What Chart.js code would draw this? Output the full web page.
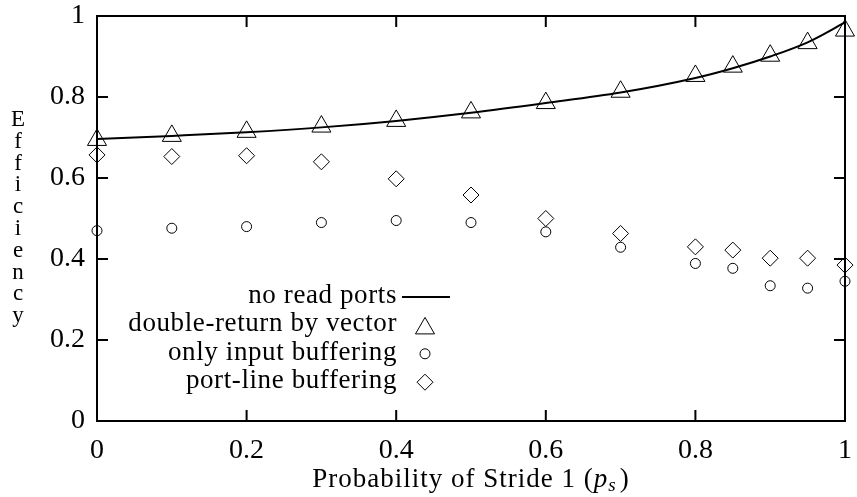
<!DOCTYPE html>
<html>
<head>
<meta charset="utf-8">
<script src="https://cdn.jsdelivr.net/npm/chart.js@4.4.1/dist/chart.umd.min.js"></script>
<style>
    html, body { margin: 0; padding: 0; background: #fff; }
</style>
</head>
<body>
<canvas id="efficiencyChart" width="857" height="497"></canvas>
<script>
// values
const strideProb = [0, 0.1, 0.2, 0.3, 0.4, 0.5, 0.6, 0.7, 0.8, 0.85, 0.9, 0.95, 1];
const noReadPorts = [0.696, 0.704, 0.713, 0.725, 0.741, 0.761, 0.785, 0.811, 0.847, 0.871, 0.900, 0.935, 0.984];
const doubleReturn = [0.694, 0.704, 0.714, 0.727, 0.741, 0.762, 0.785, 0.813, 0.852, 0.875, 0.902, 0.933, 0.964];
const inputBuffering = [0.470, 0.476, 0.480, 0.490, 0.495, 0.490, 0.467, 0.429, 0.389, 0.377, 0.334, 0.328, 0.345];
const portLineBuffering = [0.657, 0.653, 0.655, 0.640, 0.598, 0.558, 0.500, 0.463, 0.430, 0.422, 0.402, 0.402, 0.385];
const axisTicks = [0, 0.2, 0.4, 0.6, 0.8, 1];
const yTitle = 'Efficiency';
const xTitle = 'Probability of Stride 1 (';

const FONT = '"Liberation Serif", "Times New Roman", serif';

function toPoints(ys) {
    return strideProb.map((x, i) => ({ x: x, y: ys[i] }));
}

function formatTick(v) {
    return String(Math.round(v * 10) / 10);
}

// zero the label overhang so the plot box lands where the reference has it
function fixScale(scale, size) {
    if (scale.isHorizontal()) scale.height = size; else scale.width = size;
    scale.paddingLeft = 0;
    scale.paddingRight = 0;
    scale.paddingTop = 0;
    scale.paddingBottom = 0;
}

const legendRows = [
    { label: 'no read ports', kind: 'line' },
    { label: 'double-return by vector', kind: 'point', style: 'triangle', radius: 11 },
    { label: 'only input buffering', kind: 'point', style: 'circle', radius: 5 },
    { label: 'port-line buffering', kind: 'point', style: 'rectRot', radius: 8 }
];

// gnuplot-like frame: inward ticks on all four sides, stacked y title, key
const gnuplotFrame = {
    id: 'gnuplotFrame',
    afterDraw(chart) {
        const ctx = chart.ctx;
        const a = chart.chartArea;
        const xs = chart.scales.x;
        const ys = chart.scales.y;
        const tick = 11;

        ctx.save();
        ctx.strokeStyle = '#000';
        ctx.lineWidth = 2;
        ctx.strokeRect(a.left, a.top, a.right - a.left, a.bottom - a.top);

        ctx.beginPath();
        axisTicks.forEach(v => {
            const px = xs.getPixelForValue(v);
            ctx.moveTo(px, a.bottom); ctx.lineTo(px, a.bottom - tick);
            ctx.moveTo(px, a.top); ctx.lineTo(px, a.top + tick);
            const py = ys.getPixelForValue(v);
            ctx.moveTo(a.left, py); ctx.lineTo(a.left + tick, py);
            ctx.moveTo(a.right, py); ctx.lineTo(a.right - tick, py);
        });
        ctx.stroke();

        // stacked y title
        ctx.fillStyle = '#000';
        ctx.font = '23px ' + FONT;
        ctx.textAlign = 'center';
        ctx.textBaseline = 'alphabetic';
        yTitle.split('').forEach((ch, i) => {
            ctx.fillText(ch, 18, 126 + i * 21.8);
        });

        // x title with italic p and subscript s
        ctx.letterSpacing = '1px';
        const cx = (a.left + a.right) / 2;
        const base = 487;
        ctx.font = '27px ' + FONT;
        const w1 = ctx.measureText(xTitle).width;
        ctx.font = 'italic 27px ' + FONT;
        const wp = ctx.measureText('p').width;
        ctx.font = 'italic 19px ' + FONT;
        const ws = ctx.measureText('s').width;
        ctx.font = '27px ' + FONT;
        const wc = ctx.measureText(')').width;
        let x0 = cx - (w1 + wp + ws + 3 + wc) / 2;
        ctx.textAlign = 'left';
        ctx.fillText(xTitle, x0, base);
        x0 += w1;
        ctx.font = 'italic 27px ' + FONT;
        ctx.fillText('p', x0, base);
        x0 += wp;
        ctx.font = 'italic 19px ' + FONT;
        ctx.fillText('s', x0, base + 4);
        x0 += ws + 3;
        ctx.font = '27px ' + FONT;
        ctx.fillText(')', x0, base);

        // key
        ctx.letterSpacing = '0.6px';
        const textRight = a.left + 300;
        const symX = a.left + 328;
        ctx.textAlign = 'right';
        legendRows.forEach((row, i) => {
            const by = a.top + 287 + i * 28.4;
            ctx.fillStyle = '#000';
            ctx.font = '27px ' + FONT;
            ctx.fillText(row.label, textRight, by);
            const sy = by - 6;
            if (row.kind === 'line') {
                ctx.lineWidth = 2;
                ctx.beginPath();
                ctx.moveTo(symX - 23, sy);
                ctx.lineTo(symX + 25, sy);
                ctx.stroke();
            } else {
                ctx.lineWidth = 1;
                ctx.fillStyle = '#fff';
                Chart.helpers.drawPoint(ctx, {
                    pointStyle: row.style,
                    radius: row.radius,
                    borderWidth: 1,
                    rotation: 0
                }, symX, sy + (row.style === 'triangle' ? 3 : 0));
            }
        });
        ctx.restore();
    }
};

const markerBase = {
    showLine: false,
    borderColor: '#000',
    backgroundColor: 'rgba(0,0,0,0)',
    pointBorderWidth: 1,
    clip: false
};

new Chart(document.getElementById('efficiencyChart'), {
    type: 'scatter',
    data: {
        datasets: [
            {
                label: 'no read ports',
                data: toPoints(noReadPorts),
                showLine: true,
                borderColor: '#000',
                borderWidth: 2,
                pointRadius: 0,
                cubicInterpolationMode: 'monotone',
                clip: false
            },
            Object.assign({}, markerBase, {
                label: 'double-return by vector',
                data: toPoints(doubleReturn),
                pointStyle: 'triangle',
                pointRadius: 11
            }),
            Object.assign({}, markerBase, {
                label: 'only input buffering',
                data: toPoints(inputBuffering),
                pointStyle: 'circle',
                pointRadius: 5
            }),
            Object.assign({}, markerBase, {
                label: 'port-line buffering',
                data: toPoints(portLineBuffering),
                pointStyle: 'rectRot',
                pointRadius: 8
            })
        ]
    },
    options: {
        responsive: false,
        animation: false,
        devicePixelRatio: 1,
        layout: { padding: { left: 0, top: 16, right: 9, bottom: 0 } },
        plugins: {
            legend: { display: false },
            tooltip: { enabled: false }
        },
        scales: {
            x: {
                type: 'linear',
                min: 0,
                max: 1,
                grid: { display: false, drawTicks: false },
                border: { display: false },
                afterBuildTicks: scale => { scale.ticks = axisTicks.map(v => ({ value: v })); },
                afterFit: scale => fixScale(scale, 76),
                ticks: {
                    color: '#000',
                    padding: 13,
                    maxRotation: 0,
                    font: { family: FONT, size: 28 },
                    callback: formatTick
                }
            },
            y: {
                type: 'linear',
                min: 0,
                max: 1,
                grid: { display: false, drawTicks: false },
                border: { display: false },
                afterBuildTicks: scale => { scale.ticks = axisTicks.map(v => ({ value: v })); },
                afterFit: scale => fixScale(scale, 97),
                ticks: {
                    color: '#000',
                    padding: 12,
                    font: { family: FONT, size: 28 },
                    callback: formatTick
                }
            }
        }
    },
    plugins: [gnuplotFrame]
});
</script>
</body>
</html>
